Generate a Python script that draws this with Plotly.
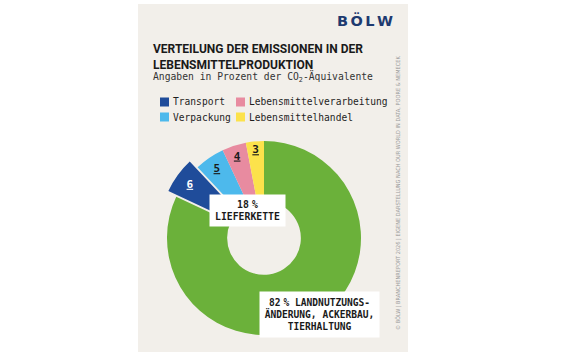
import plotly.graph_objects as go

W, H = 576, 358

# ---- data ----
categories = ["Landnutzungsänderung, Ackerbau, Tierhaltung", "Transport", "Verpackung",
              "Lebensmittelverarbeitung", "Lebensmittelhandel"]
values = [82, 6, 5, 4, 3]
colors = ["#6BB13A", "#1F4C9A", "#4DB9EC", "#E88BA0", "#FCE24B"]
legend_col1 = ["Transport", "Verpackung"]
legend_col2 = ["Lebensmittelverarbeitung", "Lebensmittelhandel"]
supply_chain_share = 18
land_share = 82


def px_x(x):
    return x / W


def px_y(y):
    return 1 - y / H


MONO = "DejaVu Sans Mono"
SANS = "Roboto"
NSP = "<span style='font-size:5px'> </span>"  # narrow space before %
LSP = "<span style='font-size:7px'> </span>"  # narrow letter gap in logo

fig = go.Figure()

# donut
cx, cy, r, pull = 264, 238, 97, 0.1
half = r * (1 + pull)
lab = "<b><u>%{value}</u></b>"
fig.add_trace(go.Pie(
    labels=categories,
    values=values,
    marker=dict(colors=colors, line=dict(width=0)),
    hole=0.38,
    sort=False,
    direction="clockwise",
    rotation=0,
    pull=[0, pull, 0, 0, 0],
    texttemplate=lab,
    textposition=["none", "inside", "inside", "inside", "inside"],
    insidetextorientation="horizontal",
    textfont=dict(family=MONO, size=11, color=["#ffffff", "#ffffff", "#1a1a1a", "#1a1a1a", "#1a1a1a"]),
    showlegend=False,
    hoverinfo="label+value",
    domain=dict(x=[px_x(cx - half), px_x(cx + half)], y=[px_y(cy + half), px_y(cy - half)]),
))

shapes = [dict(type="rect", xref="paper", yref="paper",
               x0=px_x(138), x1=px_x(408), y0=px_y(352), y1=px_y(4),
               fillcolor="#F2EFEA", line=dict(width=0), layer="below")]
annotations = []

# legend (squares + labels)
for col_x, names in ((160, legend_col1), (236, legend_col2)):
    for row, name in enumerate(names):
        yc = 102 + row * 15
        c = colors[categories.index(name)]
        shapes.append(dict(type="rect", xref="paper", yref="paper",
                           x0=px_x(col_x), x1=px_x(col_x + 9),
                           y0=px_y(yc + 4.5), y1=px_y(yc - 4.5),
                           fillcolor=c, line=dict(width=0)))
        annotations.append(dict(text=name, x=px_x(col_x + 11), y=px_y(yc), xref="paper", yref="paper",
                                xanchor="left", yanchor="middle", showarrow=False,
                                font=dict(family=MONO, size=9.6, color="#1e1e1e")))

annotations += [
    dict(text=f"<b>B{LSP}Ö{LSP}L{LSP}W</b>", x=px_x(395), y=px_y(21), xref="paper", yref="paper",
         xanchor="right", yanchor="middle", showarrow=False,
         font=dict(family="DejaVu Sans", size=14.5, color="#1E3A70")),
    dict(text="<b>VERTEILUNG DER EMISSIONEN IN DER<br>LEBENSMITTELPRODUKTION</b>",
         x=px_x(151), y=px_y(40), xref="paper", yref="paper",
         xanchor="left", yanchor="top", align="left", showarrow=False,
         font=dict(family=SANS, size=12, color="#1a1a1a")),
    dict(text="Angaben in Prozent der CO<sub>2</sub>-Äquivalente",
         x=px_x(151), y=px_y(77), xref="paper", yref="paper",
         xanchor="left", yanchor="middle", align="left", showarrow=False,
         font=dict(family=MONO, size=9.7, color="#333333")),
    dict(text=f"<b>{supply_chain_share}{NSP}%<br>LIEFERKETTE</b>",
         x=px_x(247.5), y=px_y(210.5), xref="paper", yref="paper",
         xanchor="center", yanchor="middle", align="center", showarrow=False,
         bgcolor="#ffffff", borderpad=3, width=69, height=25,
         font=dict(family=MONO, size=9.8, color="#1a1a1a")),
    dict(text=f"<b>{land_share}{NSP}% LANDNUTZUNGS-<br>ÄNDERUNG, ACKERBAU,<br>TIERHALTUNG</b>",
         x=px_x(319.5), y=px_y(314.5), xref="paper", yref="paper",
         xanchor="center", yanchor="middle", align="center", showarrow=False,
         bgcolor="#ffffff", borderpad=3, width=113, height=39,
         font=dict(family=MONO, size=9.6, color="#1a1a1a")),
    dict(text="© BÖLW | BRANCHENREPORT 2026 | EIGENE DARSTELLUNG NACH OUR WORLD IN DATA, POORE & NEMECEK",
         x=px_x(398), y=px_y(193), xref="paper", yref="paper",
         xanchor="center", yanchor="middle", textangle=-90, showarrow=False,
         font=dict(family="DejaVu Sans Condensed", size=5.6, color="#9a9a9a")),
]

fig.update_layout(
    width=W, height=H,
    margin=dict(l=0, r=0, t=0, b=0),
    paper_bgcolor="#ffffff",
    plot_bgcolor="rgba(0,0,0,0)",
    showlegend=False,
    shapes=shapes,
    annotations=annotations,
)

fig.write_html("out.html", config={"displayModeBar": False},
               post_script="document.body.style.margin='0';")
